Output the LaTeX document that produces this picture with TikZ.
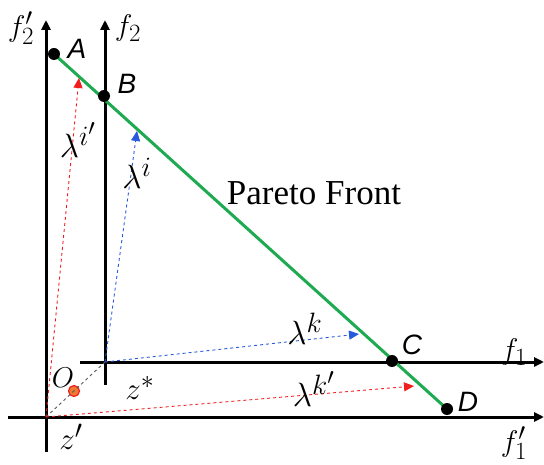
\documentclass[tikz,border=0pt]{standalone}
\usepackage{fontspec}
\setmainfont{Liberation Serif}
\newfontfamily\arialf{Liberation Sans}
\usetikzlibrary{arrows.meta}
\definecolor{pgreen}{RGB}{30,170,80}
\definecolor{pblue}{RGB}{40,90,220}
\definecolor{pred}{RGB}{240,30,30}
\definecolor{porange}{RGB}{240,120,50}
\newcommand{\mylbl}[2]{\scalebox{#1}{\fontsize{24.88}{28}\selectfont$#2$}}
\begin{document}
\begin{tikzpicture}[x=1pt,y=-1pt,
  axis/.style={line width=3pt,-{Triangle[length=10pt,width=9pt]}},
  dot/.style={circle,fill=black,inner sep=0pt,minimum size=12pt},
  ptlabel/.style={font=\arialf\itshape\fontsize{28}{32}\selectfont,inner sep=0pt},
  mlabel/.style={inner sep=0pt},
  bluearrow/.style={pblue,dashed,line width=0.9pt,-{Triangle[length=10pt,width=9pt]}},
  redarrow/.style={pred,dashed,line width=0.9pt,-{Triangle[length=10pt,width=9pt]}},
  front/.style={pgreen,line width=3pt}]
\useasboundingbox (0,0) rectangle (544,465);
% coordinates
\coordinate (zp) at (46,417);
\coordinate (zs) at (105,362);
\coordinate (f2ptop) at (46,20);
\coordinate (f2pbot) at (46,452);
\coordinate (f2top) at (105,20);
\coordinate (f2bot) at (105,385);
\coordinate (f1left) at (80,362);
\coordinate (f1right) at (544,362);
\coordinate (f1pleft) at (8,417);
\coordinate (f1pright) at (544,417);
% axes
\draw[axis] (f2pbot) -- (f2ptop);
\draw[axis] (f2bot) -- (f2top);
\draw[axis] (f1left) -- (f1right);
\draw[axis] (f1pleft) -- (f1pright);
% points
\coordinate (A) at (54,54);
\coordinate (B) at (104,96);
\coordinate (C) at (392,361);
\coordinate (D) at (447,409);
\draw[front] (A) -- (D);
\node[dot] (dA) at (A) {};
\node[dot] (dB) at (B) {};
\node[dot] (dC) at (C) {};
\node[dot] (dD) at (D) {};
% labels
\node[ptlabel] (lA) at (77,49) {A};
\node[ptlabel] (lB) at (127,84) {B};
\node[ptlabel] (lC) at (412,345) {C};
\node[ptlabel] (lD) at (468,402) {D};
\node[mlabel] (lf2p) at (21,28) {\mylbl{1.2}{f_2'}};
\node[mlabel] (lf2) at (128,28) {\mylbl{1.2}{f_2}};
\node[mlabel] (lf1) at (514,352) {\mylbl{1.2}{f_1}};
\node[mlabel] (lf1p) at (514,443) {\mylbl{1.2}{f_1'}};
\node[mlabel] (lO) at (63,378) {\mylbl{1.15}{O}};
\node[mlabel] (lzs) at (140,388) {\mylbl{1.25}{z^*}};
\node[mlabel] (lzp) at (71,437) {\mylbl{1.25}{z'}};
\node[font=\fontsize{35}{40}\selectfont,inner sep=0pt] (pf) at (314,193) {Pareto Front};
% origin dot
\node[circle,draw=pred,fill=porange,line width=1.2pt,inner sep=0pt,minimum size=11pt] (O) at (74,391) {};
% gray dashed
\draw[gray!70!black,dashed,line width=0.9pt] (zp) -- (zs);
% lambda arrows
\coordinate (tip1) at (79,78);
\coordinate (tip2) at (137,131);
\coordinate (tip3) at (359,334);
\coordinate (tip4) at (414,386);
\draw[redarrow] (zp) -- (tip1);
\draw[bluearrow] (zs) -- (tip2);
\draw[bluearrow] (zs) -- (tip3);
\draw[redarrow] (zp) -- (tip4);
\node[mlabel] (li1) at (78,140) {\mylbl{1.35}{\lambda^{i'}}};
\node[mlabel] (li) at (137,173) {\mylbl{1.35}{\lambda^{i}}};
\node[mlabel] (lk) at (305,329) {\mylbl{1.35}{\lambda^{k}}};
\node[mlabel] (lk1) at (314,389) {\mylbl{1.35}{\lambda^{k'}}};
\end{tikzpicture}
\end{document}
